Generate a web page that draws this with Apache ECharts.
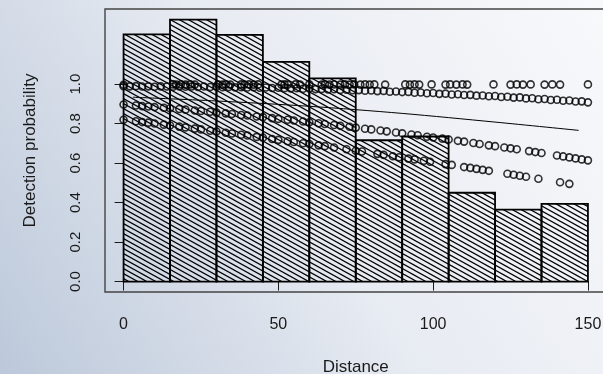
<!DOCTYPE html>
<html>
<head>
<meta charset="utf-8">
<script src="https://cdn.jsdelivr.net/npm/echarts@6.0.0/dist/echarts.min.js"></script>
<style>
  html, body { margin: 0; padding: 0; }
  #root { width: 603px; height: 374px; }
</style>
</head>
<body>
<div id="root"></div>
<script>
// histogram of distances (scaled), 15 m bins
var binEdges = [0, 15, 30, 45, 60, 75, 90, 105, 120, 135, 150]
var binHeights = [1.252, 1.327, 1.25, 1.113, 1.029, 0.716, 0.735, 0.45, 0.364, 0.394]

// fitted detection probabilities per observation [distance, p]
var upperRow = [[0, 0.997], [16, 0.999], [17, 0.998], [18.5, 0.999], [20, 0.998], [21.5, 0.999], [23, 0.998],
  [30.5, 0.999], [32, 0.998], [33, 0.999], [34.5, 0.998], [38, 0.999], [39, 0.998], [40.5, 0.999], [42, 0.998], [43.5, 0.999],
  [51, 0.998], [52, 0.999], [53, 0.998], [55.5, 0.999], [57, 0.998], [60, 0.999], [64, 0.998], [65, 0.999], [66.5, 0.998],
  [68, 0.999], [70, 0.998], [71.5, 0.999], [73, 0.998], [74.5, 0.999], [76.5, 0.998], [78, 0.999], [79.5, 0.998], [81, 0.999],
  [84.5, 0.998], [91, 0.999], [92.5, 0.998], [94, 0.999], [95.5, 0.998], [99.5, 0.999], [104, 0.998], [105.5, 0.999],
  [107.5, 0.998], [109.5, 0.999], [111, 0.998], [119.5, 0.999], [125, 0.998], [127, 0.999], [129, 0.998], [131.5, 0.999],
  [136, 0.998], [138.5, 0.999], [141, 0.998], [150, 0.999]]

var topRow = [[0, 0.990], [2, 0.989], [4, 0.990], [6, 0.988], [8, 0.989], [10, 0.987], [12, 0.989], [14, 0.988], [16, 0.987],
  [18, 0.989], [20, 0.987], [22, 0.988], [24, 0.986], [26, 0.988], [28, 0.986], [30, 0.987], [32, 0.985], [34, 0.986],
  [36, 0.984], [38, 0.985], [40, 0.983], [42, 0.985], [44, 0.982], [46, 0.983], [48, 0.981], [50, 0.982], [52, 0.980],
  [54, 0.979], [56, 0.980], [58, 0.977], [60, 0.978], [62, 0.975], [64, 0.976], [66, 0.973], [68, 0.974], [70, 0.971],
  [72, 0.972], [74, 0.969], [76, 0.970], [78, 0.967], [80, 0.968], [82, 0.965], [84, 0.966], [86, 0.962], [88, 0.963],
  [90, 0.960], [92, 0.961], [94, 0.957], [96, 0.958], [98, 0.954], [100, 0.955], [102, 0.951], [104, 0.952], [106, 0.948],
  [108, 0.949], [110, 0.945], [112, 0.946], [114, 0.942], [116, 0.943], [118, 0.939], [120, 0.940], [122, 0.935],
  [124, 0.936], [126, 0.932], [128, 0.933], [130, 0.928], [132, 0.929], [134, 0.924], [136, 0.925], [138, 0.920],
  [140, 0.921], [142, 0.916], [144, 0.917], [146, 0.912], [148, 0.913], [150, 0.908]]

var midRow = [[0, 0.897], [4, 0.892], [6, 0.889], [8, 0.887], [10, 0.884], [13, 0.881], [15, 0.878], [18, 0.874], [20, 0.871],
  [23, 0.867], [25, 0.864], [28, 0.860], [30, 0.856], [33, 0.852], [35, 0.849], [38, 0.844], [40, 0.841], [43, 0.836],
  [45, 0.833], [48, 0.828], [50, 0.824], [53, 0.820], [55, 0.816], [58, 0.811], [60, 0.807], [63, 0.802], [65, 0.798],
  [68, 0.793], [70, 0.789], [73, 0.784], [75, 0.780], [78, 0.774], [80, 0.771], [83, 0.765], [85, 0.761], [88, 0.755],
  [90, 0.751], [93, 0.745], [95, 0.741], [98, 0.734], [100, 0.730], [103, 0.724], [105, 0.720], [108, 0.713], [110, 0.709],
  [113, 0.702], [115, 0.697], [118, 0.690], [120, 0.686], [123, 0.679], [125, 0.675], [127, 0.670], [131, 0.661],
  [133, 0.656], [135, 0.651], [140, 0.639], [142, 0.634], [144, 0.629], [146, 0.624], [148, 0.619], [150, 0.614]]

var lowRow = [[0, 0.820], [4, 0.812], [6, 0.808], [8, 0.805], [10, 0.801], [13, 0.795], [15, 0.791], [18, 0.785], [20, 0.781],
  [23, 0.775], [25, 0.771], [28, 0.764], [30, 0.760], [33, 0.754], [35, 0.750], [38, 0.744], [40, 0.740], [43, 0.733],
  [45, 0.729], [48, 0.722], [50, 0.718], [53, 0.711], [55, 0.707], [58, 0.701], [60, 0.697], [63, 0.690], [65, 0.686],
  [68, 0.679], [72, 0.670], [75, 0.663], [77, 0.659], [82, 0.647], [84, 0.642], [87, 0.635], [89, 0.630], [92, 0.623],
  [94, 0.619], [97, 0.612], [99, 0.607], [104, 0.595], [106, 0.591], [110, 0.580], [112, 0.576], [114, 0.571],
  [116, 0.566], [118, 0.561], [124, 0.546], [126, 0.541], [128, 0.536], [130, 0.531], [134, 0.521], [141, 0.503], [144, 0.495]]

// average detection curve
var meanLine = [[3, 0.934], [30, 0.915], [60, 0.888], [90, 0.852], [120, 0.808], [147, 0.766]]

var xTicks = [0, 50, 100, 150]
var yTicks = [0, 0.2, 0.4, 0.6, 0.8, 1.0]

// hatch tile: "\" lines, 5px apart vertically
var hatch = document.createElement('canvas')
hatch.width = 18
hatch.height = 10
var hc = hatch.getContext('2d')
hc.strokeStyle = '#000'
hc.lineWidth = 1.2
for (var k = -3; k <= 3; k++) {
  hc.beginPath()
  hc.moveTo(-2, -2 * 5 / 9 + 5 * k)
  hc.lineTo(20, 20 * 5 / 9 + 5 * k)
  hc.stroke()
}

var bins = binHeights.map(function (h, i) { return [binEdges[i], binEdges[i + 1], h] })

var pointStyle = { color: 'rgba(0,0,0,0)', borderColor: '#000', borderWidth: 1.6 }

function pointSeries (data) {
  return {
    type: 'scatter',
    data: data,
    symbol: 'circle',
    symbolSize: 7,
    itemStyle: pointStyle,
    z: 3,
    silent: true
  }
}

var chart = echarts.init(document.getElementById('root'))
var textStyle = { fontFamily: 'Liberation Sans', color: '#1a1a1a' }

chart.setOption({
  animation: false,
  backgroundColor: {
    type: 'linear', x: 1, y: 0, x2: 0, y2: 1,
    colorStops: [
      { offset: 0, color: '#f8f9fb' },
      { offset: 0.5, color: '#e7ebf2' },
      { offset: 1, color: '#bcc8da' }
    ]
  },
  grid: {
    left: 105, top: 9, width: 501.5, height: 283,
    outerBoundsMode: 'none',
    containLabel: false,
    show: true, borderColor: '#444', borderWidth: 1.4, backgroundColor: 'transparent'
  },
  xAxis: {
    type: 'value',
    min: -6, max: 156,
    name: 'Distance',
    nameLocation: 'middle',
    nameGap: 67,
    nameTextStyle: Object.assign({ fontSize: 17 }, textStyle),
    axisLine: { show: false },
    axisTick: { show: true, customValues: xTicks, length: 9, lineStyle: { color: '#1a1a1a' } },
    axisLabel: { customValues: xTicks, margin: 25, fontSize: 16, fontFamily: 'Liberation Sans', color: '#1a1a1a' },
    splitLine: { show: false }
  },
  yAxis: {
    type: 'value',
    min: -0.053, max: 1.381,
    name: 'Detection probability',
    nameLocation: 'middle',
    nameRotate: 90,
    nameGap: 66,
    nameTextStyle: Object.assign({ fontSize: 17 }, textStyle),
    axisLine: { show: false },
    axisTick: { show: true, customValues: yTicks, length: 9, lineStyle: { color: '#1a1a1a' } },
    axisLabel: {
      customValues: yTicks, margin: 22, rotate: 90, fontSize: 15, fontFamily: 'Liberation Sans', color: '#1a1a1a',
      formatter: function (v) { return v.toFixed(1) }
    },
    splitLine: { show: false }
  },
  series: [
    {
      type: 'custom',
      data: bins,
      encode: { x: [0, 1], y: 2 },
      silent: true,
      z: 1,
      renderItem: function (params, api) {
        var p0 = api.coord([api.value(0), api.value(2)])
        var p1 = api.coord([api.value(1), 0])
        return {
          type: 'rect',
          shape: { x: p0[0], y: p0[1], width: p1[0] - p0[0], height: p1[1] - p0[1] },
          style: { fill: { image: hatch, repeat: 'repeat' }, stroke: '#000', lineWidth: 1.8 }
        }
      }
    },
    pointSeries(upperRow),
    pointSeries(topRow),
    pointSeries(midRow),
    pointSeries(lowRow),
    {
      type: 'line',
      data: meanLine,
      showSymbol: false,
      smooth: 0.3,
      lineStyle: { color: '#000', width: 1 },
      z: 4,
      silent: true
    }
  ]
})
</script>
</body>
</html>
